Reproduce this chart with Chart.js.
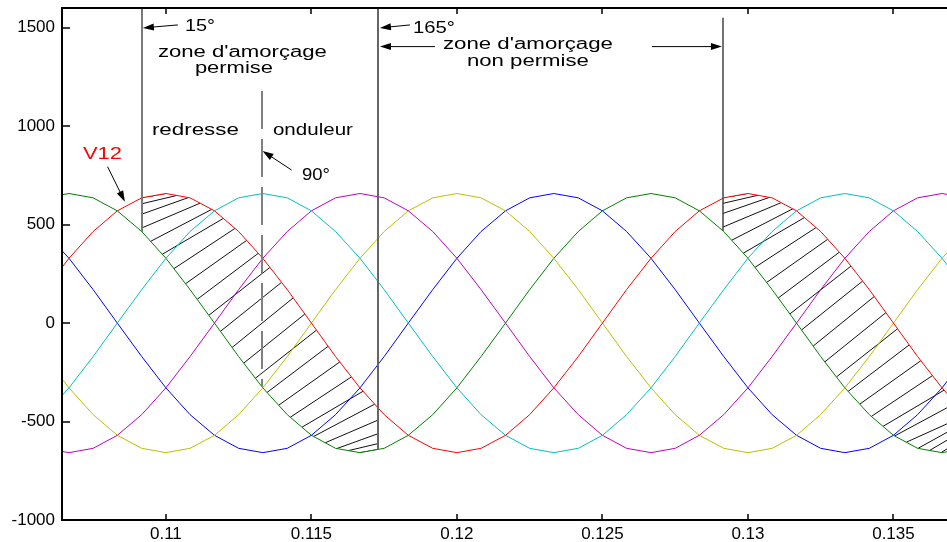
<!DOCTYPE html>
<html>
<head>
<meta charset="utf-8">
<script src="https://cdn.jsdelivr.net/npm/chart.js@4.4.0/dist/chart.umd.min.js"></script>
<style>
  html, body { margin: 0; padding: 0; background: #fff; }
  #wrap { width: 947px; height: 542px; }
</style>
</head>
<body>
<div id="wrap"><canvas id="chart" width="947" height="542"></canvas></div>
<script>
// sample instants (s), one sample every 15 degrees of the 50 Hz wave
const times = [
  0.10583, 0.10667, 0.1075, 0.10833, 0.10917, 0.11, 0.11083, 0.11167, 0.1125, 0.11333,
  0.11417, 0.115, 0.11583, 0.11667, 0.1175, 0.11833, 0.11917, 0.12, 0.12083, 0.12167,
  0.1225, 0.12333, 0.12417, 0.125, 0.12583, 0.12667, 0.1275, 0.12833, 0.12917, 0.13,
  0.13083, 0.13167, 0.1325, 0.13333, 0.13417, 0.135, 0.13583, 0.13667, 0.1375
];

// line-to-line voltages (V)
const v12 = [170, 329, 465, 570, 636, 658, 636, 570, 465, 329, 170, 0, -170, -329, -465, -570, -636, -658, -636, -570,
  -465, -329, -170, 0, 170, 329, 465, 570, 636, 658, 636, 570, 465, 329, 170, 0, -170, -329, -465];
const v13 = [-465, -329, -170, 0, 170, 329, 465, 570, 636, 658, 636, 570, 465, 329, 170, 0, -170, -329, -465, -570,
  -636, -658, -636, -570, -465, -329, -170, 0, 170, 329, 465, 570, 636, 658, 636, 570, 465, 329, 170];
const v23 = [-636, -658, -636, -570, -465, -329, -170, 0, 170, 329, 465, 570, 636, 658, 636, 570, 465, 329, 170, 0,
  -170, -329, -465, -570, -636, -658, -636, -570, -465, -329, -170, 0, 170, 329, 465, 570, 636, 658, 636];
const v21 = [-170, -329, -465, -570, -636, -658, -636, -570, -465, -329, -170, 0, 170, 329, 465, 570, 636, 658, 636, 570,
  465, 329, 170, 0, -170, -329, -465, -570, -636, -658, -636, -570, -465, -329, -170, 0, 170, 329, 465];
const v31 = [465, 329, 170, 0, -170, -329, -465, -570, -636, -658, -636, -570, -465, -329, -170, 0, 170, 329, 465, 570,
  636, 658, 636, 570, 465, 329, 170, 0, -170, -329, -465, -570, -636, -658, -636, -570, -465, -329, -170];
const v32 = [636, 658, 636, 570, 465, 329, 170, 0, -170, -329, -465, -570, -636, -658, -636, -570, -465, -329, -170, 0,
  170, 329, 465, 570, 636, 658, 636, 570, 465, 329, 170, 0, -170, -329, -465, -570, -636, -658, -636];

const xTicks = [0.11, 0.115, 0.12, 0.125, 0.13, 0.135];
const yTicks = [-1000, -500, 0, 500, 1000, 1500];

// firing windows (15 deg .. 165 deg after the natural commutation point)
const hatchZones = [
  { from: 0.109175, to: 0.117285 },
  { from: 0.129141, to: 0.1375 }
];
const hatchLag = 0.0021;   // each hatch stroke joins V32(t) to V12(t + lag)
const hatchStep = 0.0004;

// notes drawn over the plot, in data coordinates
const markLines = [
  { t: 0.109175, from: 1600, to: 462, color: '#7a7a7a', width: 2 },
  { t: 0.117285, from: 1600, to: -645, color: '#666', width: 2 },
  { t: 0.129141, from: 1550, to: 467, color: '#444', width: 1.5 },
  { t: 0.113299, from: 1179, to: -325, color: '#808080', width: 2, dash: [38, 10] }
];
const arrows = [
  { t0: 0.110412, v0: 1514, t1: 0.109210, v1: 1499 },
  { t0: 0.118385, v0: 1514, t1: 0.117354, v1: 1499 },
  { t0: 0.119244, v0: 1404, t1: 0.117354, v1: 1404 },
  { t0: 0.126701, v0: 1404, t1: 0.129107, v1: 1404 },
  { t0: 0.107997, v0: 794, t1: 0.108591, v1: 616 },
  { t0: 0.114320, v0: 777, t1: 0.113323, v1: 874 }
];
const labels = [
  { text: '15°', t: 0.110653, v: 1484, w: 30, size: 17 },
  { text: '165°', t: 0.118488, v: 1473, w: 42, size: 17 },
  { text: '90°', t: 0.114674, v: 727, w: 28, size: 16 },
  { text: "zone d'amorçage", t: 0.109725, v: 1352, w: 169, size: 16 },
  { text: 'permise', t: 0.110997, v: 1270, w: 78, size: 16 },
  { text: 'redresse', t: 0.109519, v: 955, w: 87, size: 16 },
  { text: 'onduleur', t: 0.113677, v: 955, w: 80, size: 16 },
  { text: "zone d'amorçage", t: 0.119519, v: 1392, w: 170, size: 16 },
  { text: 'non permise', t: 0.120344, v: 1306, w: 122, size: 16 },
  { text: 'V12', t: 0.107148, v: 833, w: 39, size: 16, color: '#ff0000' }
];

const FONT = '"Liberation Sans", Arial, sans-serif';

function pairs(values) {
  return values.map((v, i) => ({ x: times[i], y: v }));
}

function curveY(meta, px) {
  const pts = meta.data;
  for (let i = 1; i < pts.length; i++) {
    if (pts[i].x >= px) {
      const a = pts[i - 1], b = pts[i];
      return a.y + (px - a.x) / (b.x - a.x) * (b.y - a.y);
    }
  }
  return pts[pts.length - 1].y;
}

function drawArrow(ctx, x0, y0, x1, y1) {
  const ang = Math.atan2(y1 - y0, x1 - x0);
  const len = 11, half = 3.5;
  const c = Math.cos(ang), s = Math.sin(ang);
  ctx.beginPath();
  ctx.moveTo(x0, y0);
  ctx.lineTo(x1 - c * len * 0.8, y1 - s * len * 0.8);
  ctx.stroke();
  ctx.beginPath();
  ctx.moveTo(x1, y1);
  ctx.lineTo(x1 - c * len + s * half, y1 - s * len - c * half);
  ctx.lineTo(x1 - c * len - s * half, y1 - s * len + c * half);
  ctx.closePath();
  ctx.fill();
}

function wideText(ctx, str, px, py, w, size, color) {
  ctx.font = size + 'px ' + FONT;
  const sx = w / ctx.measureText(str).width;
  ctx.save();
  ctx.translate(px, py);
  ctx.scale(sx, 1);
  ctx.fillStyle = color;
  ctx.textBaseline = 'alphabetic';
  ctx.textAlign = 'left';
  ctx.fillText(str, 0, 0);
  ctx.restore();
}

// hatching between V12 (upper) and V32 (lower) inside the firing windows
const hatchPlugin = {
  id: 'hatch',
  beforeDatasetsDraw(chart) {
    const { ctx, chartArea: a, scales: { x } } = chart;
    const upper = chart.getDatasetMeta(0);
    const lower = chart.getDatasetMeta(5);
    ctx.save();
    ctx.beginPath();
    ctx.rect(a.left, a.top, a.right - a.left, a.bottom - a.top);
    ctx.clip();
    hatchZones.forEach(z => {
      const x1 = x.getPixelForValue(z.from);
      const x2 = x.getPixelForValue(z.to);
      ctx.save();
      ctx.beginPath();
      ctx.rect(x1, a.top, x2 - x1, a.bottom - a.top);
      ctx.clip();
      ctx.beginPath();
      upper.data.forEach((p, i) => i ? ctx.lineTo(p.x, p.y) : ctx.moveTo(p.x, p.y));
      for (let i = lower.data.length - 1; i >= 0; i--) ctx.lineTo(lower.data[i].x, lower.data[i].y);
      ctx.closePath();
      ctx.clip();
      ctx.beginPath();
      for (let t = z.from - hatchLag; t <= z.to; t += hatchStep) {
        const gx = x.getPixelForValue(t);
        const rx = x.getPixelForValue(t + hatchLag);
        ctx.moveTo(gx, curveY(lower, gx));
        ctx.lineTo(rx, curveY(upper, rx));
      }
      ctx.strokeStyle = '#111';
      ctx.lineWidth = 1;
      ctx.stroke();
      ctx.restore();
    });
    ctx.restore();
  }
};

// MATLAB-like box: top/left/bottom lines with inward ticks
const framePlugin = {
  id: 'frame',
  afterDraw(chart) {
    const { ctx, chartArea: a, scales: { x, y } } = chart;
    ctx.save();
    ctx.strokeStyle = '#000';
    ctx.lineWidth = 2;
    ctx.beginPath();
    ctx.moveTo(a.right, a.top);
    ctx.lineTo(a.left, a.top);
    ctx.lineTo(a.left, a.bottom);
    ctx.lineTo(a.right, a.bottom);
    ctx.stroke();
    ctx.lineWidth = 1.5;
    ctx.beginPath();
    xTicks.forEach(v => {
      const px = Math.round(x.getPixelForValue(v));
      ctx.moveTo(px, a.bottom);
      ctx.lineTo(px, a.bottom - 6);
      ctx.moveTo(px, a.top);
      ctx.lineTo(px, a.top + 6);
    });
    yTicks.forEach(v => {
      const py = Math.round(y.getPixelForValue(v));
      ctx.moveTo(a.left, py);
      ctx.lineTo(a.left + 8, py);
    });
    ctx.stroke();
    ctx.restore();
  }
};

const notesPlugin = {
  id: 'notes',
  afterDatasetsDraw(chart) {
    const { ctx, scales: { x, y } } = chart;
    ctx.save();
    markLines.forEach(m => {
      const px = Math.round(x.getPixelForValue(m.t));
      ctx.beginPath();
      ctx.setLineDash(m.dash || []);
      ctx.strokeStyle = m.color;
      ctx.lineWidth = m.width;
      ctx.moveTo(px, y.getPixelForValue(m.from));
      ctx.lineTo(px, y.getPixelForValue(m.to));
      ctx.stroke();
    });
    ctx.setLineDash([]);
    ctx.strokeStyle = '#000';
    ctx.fillStyle = '#000';
    ctx.lineWidth = 1;
    arrows.forEach(ar => {
      drawArrow(ctx, x.getPixelForValue(ar.t0), y.getPixelForValue(ar.v0),
        x.getPixelForValue(ar.t1), y.getPixelForValue(ar.v1));
    });
    labels.forEach(l => {
      wideText(ctx, l.text, x.getPixelForValue(l.t), y.getPixelForValue(l.v), l.w, l.size, l.color || '#000');
    });
    ctx.restore();
  }
};

const series = [
  { label: 'V12', data: v12, color: '#ff0000' },
  { label: 'V13', data: v13, color: '#00bfbf' },
  { label: 'V23', data: v23, color: '#bf00bf' },
  { label: 'V21', data: v21, color: '#bfbf00' },
  { label: 'V31', data: v31, color: '#0000ff' },
  { label: 'V32', data: v32, color: '#008000' }
];

new Chart(document.getElementById('chart'), {
  type: 'line',
  data: {
    datasets: series.map(s => ({
      label: s.label,
      data: pairs(s.data),
      borderColor: s.color,
      borderWidth: 1,
      pointRadius: 0,
      tension: 0,
      fill: false
    }))
  },
  options: {
    responsive: false,
    animation: false,
    events: [],
    layout: { padding: { top: 8, right: 0, bottom: 0, left: 0 }, autoPadding: false },
    plugins: { legend: { display: false }, tooltip: { enabled: false } },
    scales: {
      x: {
        type: 'linear',
        min: 0.10643,
        max: 0.13684,
        afterBuildTicks: s => { s.ticks = xTicks.map(v => ({ value: v })); },
        afterFit: s => { s.height = 22; s.paddingLeft = 0; s.paddingRight = 0; },
        grid: { display: false, drawTicks: false },
        border: { display: false },
        ticks: {
          padding: 4,
          maxRotation: 0,
          autoSkip: false,
          color: '#000',
          font: { family: FONT, size: 17 },
          callback: v => String(+v.toFixed(3))
        }
      },
      y: {
        min: -1000,
        max: 1600,
        afterBuildTicks: s => { s.ticks = yTicks.map(v => ({ value: v })); },
        afterFit: s => { s.width = 62; s.paddingTop = 0; s.paddingBottom = 0; },
        grid: { display: false, drawTicks: false },
        border: { display: false },
        ticks: {
          padding: 7,
          color: '#000',
          font: { family: FONT, size: 17 },
          callback: v => String(v)
        }
      }
    }
  },
  plugins: [hatchPlugin, notesPlugin, framePlugin]
});
</script>
</body>
</html>
